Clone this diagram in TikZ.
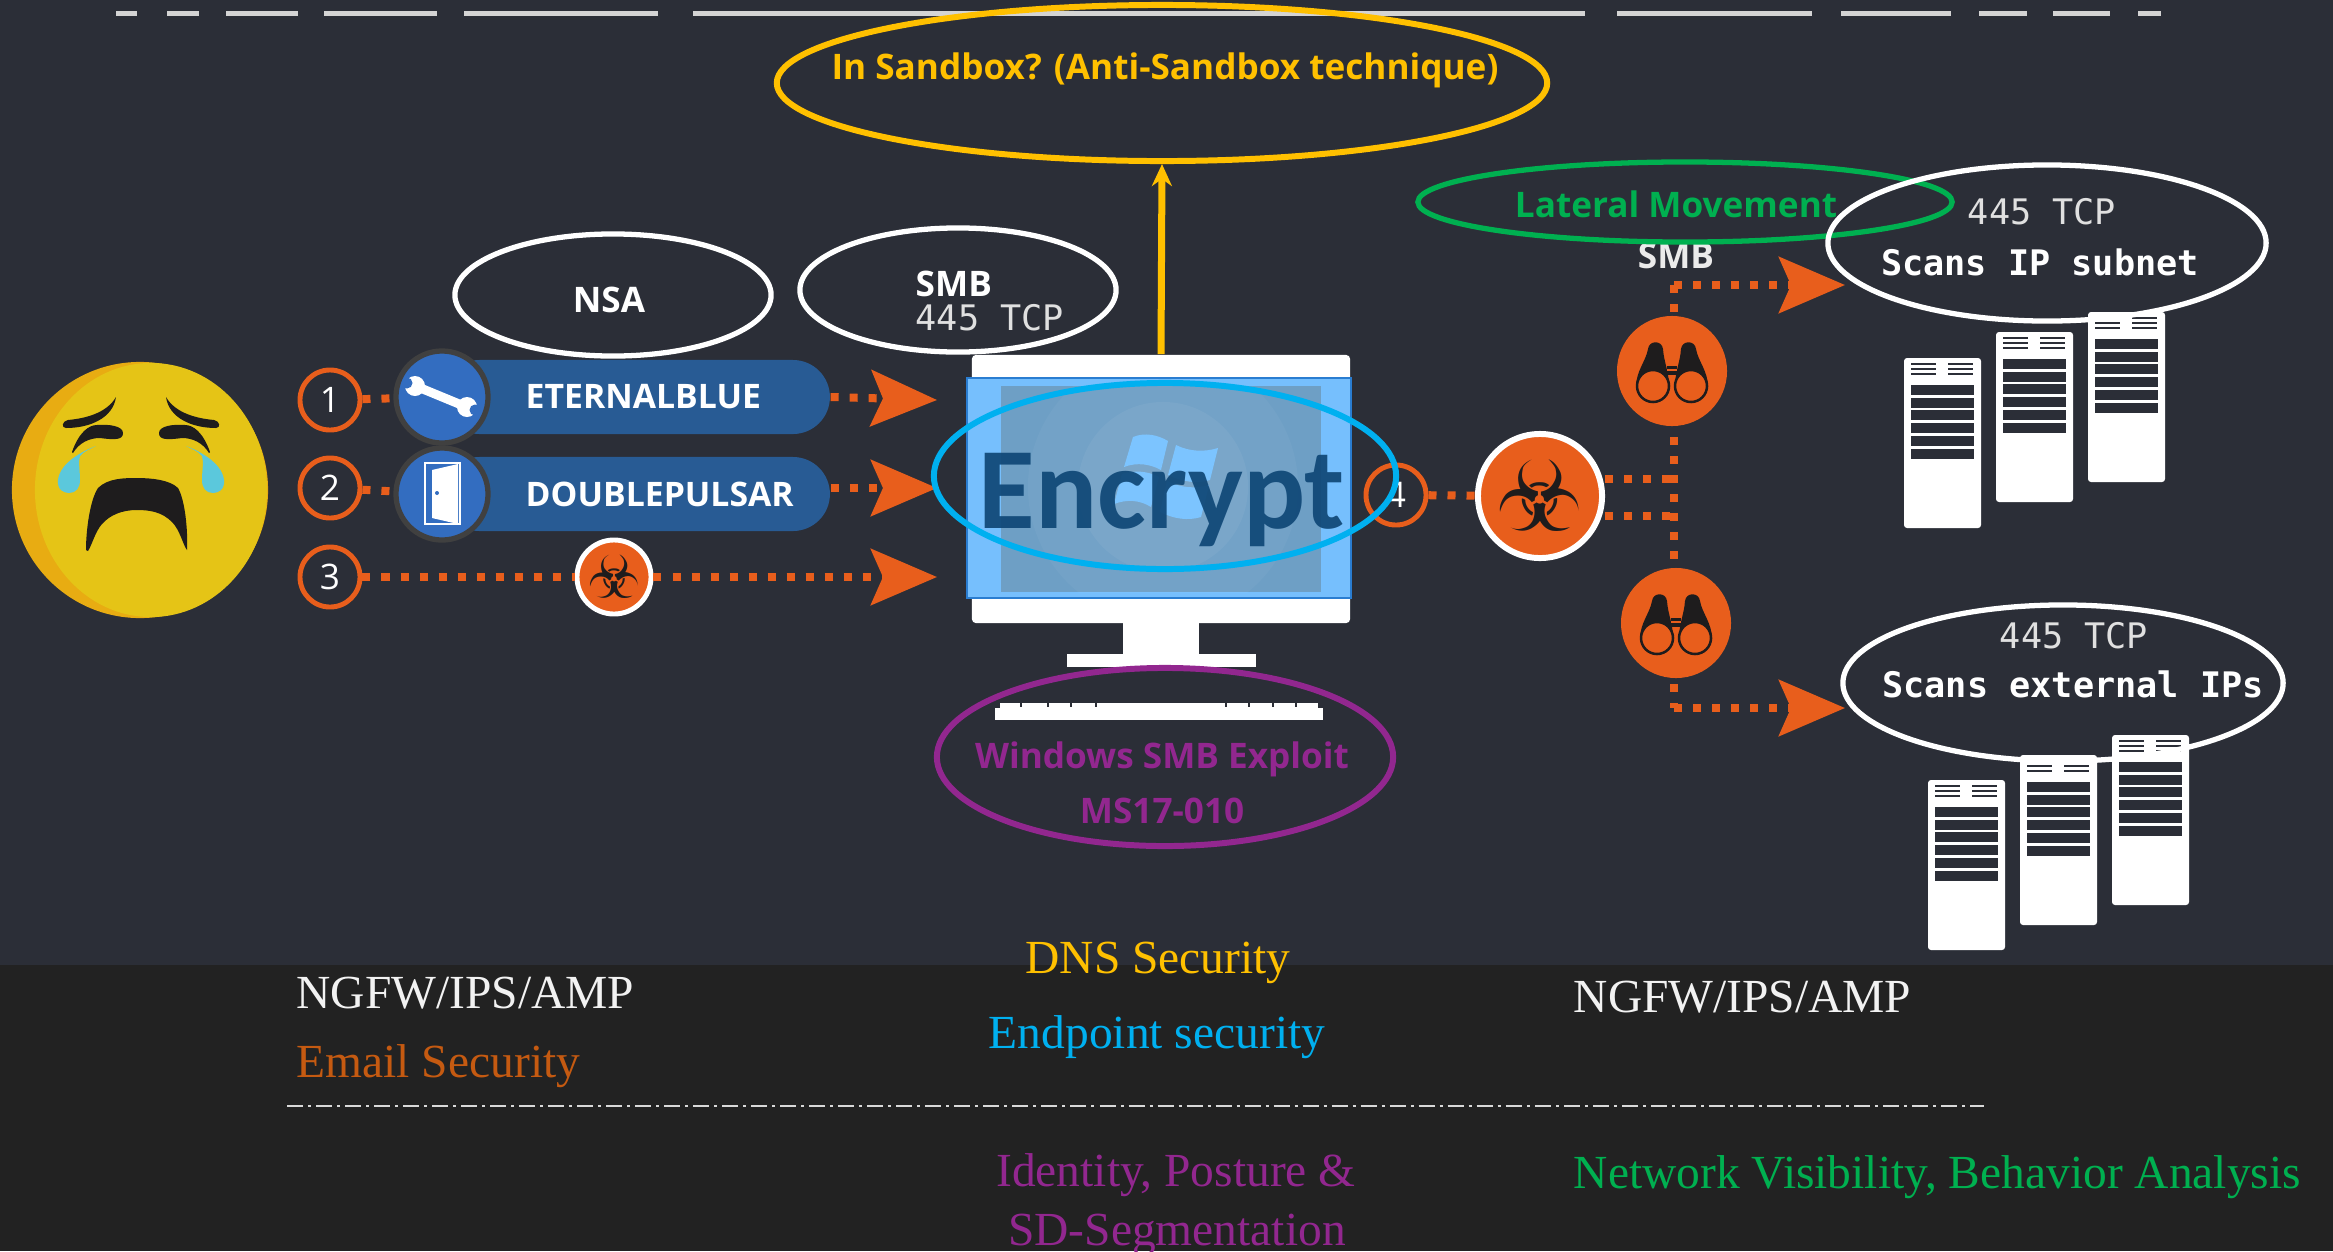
\documentclass[tikz,border=0pt]{standalone}
\usepackage{fontspec}
\setmainfont{Liberation Serif}
\newfontfamily\uifont{Open Sans}
\newfontfamily\codefont{DejaVu Sans Mono}
\newfontfamily\encfont{Carlito}
\newfontfamily\hazfont{DejaVu Sans}
\usetikzlibrary{shapes.geometric,arrows.meta,positioning,calc}

\definecolor{bgtop}{HTML}{2B2E37}
\definecolor{bgband}{HTML}{222222}
\definecolor{warnorange}{HTML}{E85E1C}
\definecolor{sandyellow}{HTML}{FFC000}
\definecolor{endcyan}{HTML}{00B0F0}
\definecolor{smbpurple}{HTML}{92278F}
\definecolor{latgreen}{HTML}{00B050}
\definecolor{pillblue}{HTML}{285B94}
\definecolor{toolblue}{HTML}{336DC0}
\definecolor{mailorange}{HTML}{C55A11}
\definecolor{screenblue}{HTML}{76BFFD}
\definecolor{screenline}{HTML}{2A7DD1}
\definecolor{screendim}{HTML}{6E9FC5}
\definecolor{winpane}{HTML}{7CC4FF}
\definecolor{encblue}{HTML}{0F4776}
\definecolor{faceyel}{HTML}{E5C416}
\definecolor{faceedge}{HTML}{E8AC12}
\definecolor{teardrop}{HTML}{5BC8DC}
\definecolor{inkdark}{HTML}{1E1C1D}
\definecolor{dashgray}{HTML}{D4D4D4}

\begin{document}
\begin{tikzpicture}[x=0.01cm,y=-0.01cm,
    bubble/.style={ellipse,draw=white,line width=1.5pt,inner sep=0pt},
    numring/.style={circle,draw=warnorange,line width=1.4pt,minimum size=0.6cm,inner sep=0pt,
        text=white,font=\uifont\fontsize{10}{10}\selectfont},
    toolicon/.style={circle,fill=toolblue,draw=black!75,line width=1.5pt,minimum size=0.92cm,inner sep=0pt},
    pill/.style={rectangle,fill=pillblue,rounded corners=0.37cm,minimum width=3.87cm,minimum height=0.74cm,anchor=west},
    pilltext/.style={anchor=base west,inner sep=0pt,text=white,font=\uifont\bfseries\fontsize{9.6}{10}\selectfont},
    hazard/.style={circle,fill=warnorange,draw=white,inner sep=0pt,text=inkdark},
    scoutdot/.style={circle,fill=warnorange,minimum size=1.1cm,inner sep=0pt},
    dotline/.style={draw=warnorange,line width=0.08cm,dash pattern=on 0.08cm off 0.11cm},
    tipline/.style={dotline,-{Stealth[length=0.66cm,width=0.56cm,inset=0.12cm]}},
    uitext/.style={inner sep=0pt,font=\uifont\bfseries\fontsize{10}{10}\selectfont},
    tcptext/.style={inner sep=0pt,text=white!88!black,font=\codefont\fontsize{10}{10}\selectfont},
    scantext/.style={inner sep=0pt,text=white,font=\codefont\bfseries\fontsize{10}{10}\selectfont},
    bandtext/.style={inner sep=0pt,font=\fontsize{13.5}{16}\selectfont},
    binoculars/.pic={
        \foreach \s in {-1,1}{
            \fill[inkdark] (\s*3,16) .. controls (\s*3,0) and (\s*8,-8) .. (\s*9,-22)
                .. controls (\s*10,-31) and (\s*23,-31) .. (\s*24,-22)
                .. controls (\s*26,-10) and (\s*36,0) .. (\s*36,16) -- cycle;
            \draw[inkdark,line width=0.025cm,fill=warnorange] (\s*19,15) circle (0.16cm);
        }
        \fill[inkdark] (-5,-5) rectangle (5,4);
        \draw[warnorange,line width=0.015cm] (-5,-1) -- (5,-1);
    },
    rack/.pic={
        \fill[white,rounded corners=0.03cm] (0,0) rectangle (77,170);
        \foreach \v in {6,11,16}
            \draw[bgtop,line width=0.02cm] (7,\v) -- (32,\v) (44,\v) -- (69,\v);
        \foreach \k in {0,...,5}
            \fill[bgtop] (7,27+12.7*\k) rectangle (70,37+12.7*\k);
    }]

    \useasboundingbox (0,0) rectangle (2333,1251);
    \fill[bgtop] (0,0) rectangle (2333,965);
    \fill[bgband] (0,965) rectangle (2333,1251);

    % top rule
    \foreach \a/\b in {116/137,167/199,226/298,324/437,464/658,693/1585,1617/1812,1841/1951,1979/2027,2053/2110,2138/2161}
        \draw[dashgray,line width=0.05cm] (\a,13) -- (\b,13);

    % crying face
    \fill[faceedge] (140,490) circle (1.28cm);
    \fill[faceyel] (151,490) ellipse [x radius=1.16cm, y radius=1.27cm];
    \foreach \s in {1,-1}{
        \begin{scope}[shift={(141,0)},xscale=\s]
            \fill[inkdark] (-75,428) .. controls (-51,428) and (-28,418) .. (-25,397)
                .. controls (-33,411) and (-51,418) .. (-73,420)
                .. controls (-79,421) and (-80,428) .. (-75,428) -- cycle;
            \fill[inkdark] (-69,452) .. controls (-62,432) and (-52,425) .. (-44,425)
                .. controls (-32,424) and (-18,426) .. (-18,433)
                .. controls (-18,440) and (-26,440) .. (-41,438)
                .. controls (-52,438) and (-62,443) .. (-68,453) -- cycle;
            \fill[teardrop] (-45,446) .. controls (-56,450) and (-81,462) .. (-83,480)
                .. controls (-84,490) and (-77,493) .. (-72,493)
                .. controls (-65,493) and (-61,488) .. (-61,480)
                .. controls (-61,470) and (-63,462) .. (-61,456)
                .. controls (-57,451) and (-51,449) .. (-45,446) -- cycle;
        \end{scope}
    }
    \fill[inkdark] (86,550) .. controls (86,530) and (90,500) .. (98,488)
        .. controls (108,478) and (125,478) .. (137,478)
        .. controls (152,478) and (170,480) .. (178,488)
        .. controls (185,500) and (188,530) .. (187,550)
        .. controls (183,545) and (180,530) .. (172,522)
        .. controls (162,512) and (150,510) .. (137,510)
        .. controls (122,510) and (110,515) .. (102,524)
        .. controls (95,532) and (92,545) .. (88,551) -- cycle;

    % numbered steps
    \node[numring] (ring1) at (330,400) {1};
    \node[numring] (ring2) at (330,488) {2};
    \node[numring] (ring3) at (330,577) {3};

    \node[pill] (pill1) at (442,397) {};
    \node[pill] (pill2) at (442,494) {};
    \node[toolicon] (icon1) at (442,397) {};
    \node[toolicon] (icon2) at (442,494) {};
    \node[pilltext] (eblue) at (525,408) {ETERNALBLUE};
    \node[pilltext] (dpulsar) at (525,506) {DOUBLEPULSAR};

    % wrench
    \begin{scope}[shift={(442,397)}]
        \draw[white,line width=0.09cm] (-24,-10) -- (22,9);
        \fill[white] (-27,-11) circle (0.1cm) (25,10) circle (0.1cm);
        \fill[toolblue] (-35,-14) circle (0.055cm) (33,13) circle (0.055cm);
    \end{scope}
    % door
    \begin{scope}[shift={(442,494)}]
        \draw[white,line width=0.015cm] (-17,-31) rectangle (18,30);
        \fill[white] (-10,-24) -- (16,-30) -- (16,30) -- (-10,24) -- cycle;
        \fill[toolblue] (-5,-1) circle (0.02cm);
    \end{scope}

    \node[hazard,minimum size=0.74cm,line width=1.4pt,font=\hazfont\fontsize{17}{17}\selectfont] (haz3) at (614,577) {☣};

    \coordinate (tip1) at (937,400);
    \coordinate (tip2) at (937,488);
    \coordinate (tip3) at (937,577);
    \draw[dotline] (ring1) -- (icon1);
    \draw[dotline] (ring2) -- (icon2);
    \draw[tipline] (pill1.east) -- (tip1);
    \draw[tipline] (pill2.east |- tip2) -- (tip2);
    \draw[dotline] (ring3) -- (haz3);
    \draw[tipline] (haz3) -- (tip3);

    % exploit bubbles
    \node[bubble,minimum width=3.16cm,minimum height=1.22cm] (nsa) at (613,295) {};
    \node[uitext,text=white] (nsalbl) at (609,300) {NSA};
    \node[bubble,minimum width=3.16cm,minimum height=1.24cm] (smb) at (958,290) {};
    \node[uitext,text=white,anchor=base west] (smblbl) at (915,296) {SMB};
    \node[tcptext,anchor=base west] (smbport) at (915,330) {445 TCP};

    % workstation
    \node[fill=white,rounded corners=0.04cm,minimum width=3.78cm,minimum height=2.68cm,inner sep=0pt] (monitor) at (1161,489) {};
    \fill[white] (1123,620) rectangle (1199,655);
    \fill[white] (1067,654) rectangle (1256,667);
    \filldraw[fill=screenblue,draw=screenline,line width=0.02cm] (967,378) rectangle (1351,598);
    \fill[screendim] (1001,386) rectangle (1321,592);
    \begin{scope}
        \clip (1001,386) rectangle (1321,592);
        \fill[white,opacity=0.035] (1163,487) circle (1.35cm);
        \fill[white,opacity=0.05] (1163,487) circle (0.85cm);
    \end{scope}
    \fill[winpane] (1133,437) .. controls (1145,432) and (1158,435) .. (1168,441) -- (1161,470)
        .. controls (1150,464) and (1137,462) .. (1124,467) -- cycle;
    \fill[winpane] (1176,445) .. controls (1190,452) and (1205,452) .. (1218,448) -- (1210,480)
        .. controls (1197,484) and (1183,482) .. (1168,475) -- cycle;
    \fill[winpane] (1122,474) .. controls (1135,470) and (1148,471) .. (1159,477) -- (1151,507)
        .. controls (1140,500) and (1127,499) .. (1114,504) -- cycle;
    \fill[winpane] (1167,481) .. controls (1181,488) and (1196,489) .. (1209,485) -- (1201,517)
        .. controls (1188,521) and (1174,519) .. (1160,512) -- cycle;
    \fill[white] (995,708) rectangle (1323,720);
    \fill[white] (1000,703) rectangle (1318,708);
    \foreach \g in {1020,1047,1070,1095,1225,1248,1272,1295}
        \fill[bgtop] (\g,702) rectangle (\g+2,707);

    \node[text=encblue,opacity=0.92,anchor=base,inner sep=0pt,font=\encfont\bfseries\fontsize{33}{33}\selectfont] (enc) at (1162,528) {Encrypt};
    \node[numring] (ring4) at (1396,495) {4};
    \node[ellipse,draw=endcyan,line width=1.7pt,minimum width=4.62cm,minimum height=1.86cm] (encbub) at (1165,476) {};

    \node[bubble,draw=sandyellow,line width=1.7pt,minimum width=7.7cm,minimum height=1.56cm] (sandbub) at (1162,83) {};
    \node[uitext,text=sandyellow] (sandlbl) at (1165,70) {In Sandbox? (Anti-Sandbox technique)};
    \draw[sandyellow,line width=0.07cm,-{Stealth[length=0.22cm,width=0.2cm]}] (monitor.north) -- (sandbub.south);

    \node[bubble,draw=smbpurple,line width=1.7pt,minimum width=4.56cm,minimum height=1.78cm] (ms17) at (1165,757) {};
    \node[uitext,text=smbpurple] (ms17a) at (1162,759) {Windows SMB Exploit};
    \node[uitext,text=smbpurple] (ms17b) at (1162,811) {MS17-010};

    % spreading
    \node[hazard,minimum size=1.24cm,line width=1.7pt,font=\hazfont\fontsize{28}{28}\selectfont] (haz0) at (1540,496) {☣};
    \coordinate (fork1) at (1674,479);
    \coordinate (fork2) at (1674,516);
    \coordinate (smbtop) at (1674,285);
    \coordinate (smbbot) at (1674,708);
    \coordinate (scanA) at (1845,285);
    \coordinate (scanB) at (1845,708);
    \draw[dotline] (ring4) -- (haz0);
    \draw[dotline] (haz0.east |- fork1) -- (fork1);
    \draw[dotline] (haz0.east |- fork2) -- (fork2);
    \draw[dotline] (smbtop) -- (smbbot);
    \draw[tipline] (smbtop) -- (scanA);
    \draw[tipline] (smbbot) -- (scanB);
    \node[scoutdot] (scout1) at (1672,371) {};
    \node[scoutdot] (scout2) at (1676,623) {};
    \pic at (scout1) {binoculars};
    \pic at (scout2) {binoculars};
    \node[uitext,text=white!92!black,anchor=base] (smbside) at (1676,268) {SMB};

    % server racks
    \foreach \rx/\ry in {1904/358,1996/332,2088/312,1928/780,2020/755,2112/735}
        \pic at (\rx,\ry) {rack};

    \node[bubble,draw=latgreen,minimum width=5.34cm,minimum height=0.8cm] (latbub) at (1685,202) {};
    \node[uitext,text=latgreen,anchor=base] (latlbl) at (1676,217) {Lateral Movement};
    \node[bubble,minimum width=4.38cm,minimum height=1.56cm] (subnet) at (2047,243) {};
    \node[tcptext,anchor=base] (subport) at (2042,224) {445 TCP};
    \node[scantext,anchor=base] (sublbl) at (2040,275) {Scans IP subnet};
    \node[bubble,minimum width=4.4cm,minimum height=1.56cm] (extern) at (2063,683) {};
    \node[tcptext,anchor=base] (extport) at (2074,648) {445 TCP};
    \node[scantext,anchor=base] (extlbl) at (2073,697) {Scans external IPs};

    % controls band
    \draw[white!85!black,line width=0.025cm,dash pattern=on 0.16cm off 0.05cm on 0.03cm off 0.05cm] (287,1106) -- (1984,1106);
    \node[bandtext,text=white!95!black,anchor=base west] (ngfwl) at (296,1008) {NGFW/IPS/AMP};
    \node[bandtext,text=mailorange,anchor=base west] (mail) at (296,1077) {Email Security};
    \node[bandtext,text=sandyellow,anchor=base] (dns) at (1158,973) {DNS Security};
    \node[bandtext,text=endcyan,anchor=base] (endp) at (1157,1048) {Endpoint security};
    \node[bandtext,text=white!95!black,anchor=base west] (ngfwr) at (1573,1012) {NGFW/IPS/AMP};
    \node[bandtext,text=smbpurple,anchor=base] (ident) at (1176,1186) {Identity, Posture \&};
    \node[bandtext,text=smbpurple,anchor=base] (segm) at (1177,1245) {SD-Segmentation};
    \node[bandtext,text=latgreen,anchor=base west] (netvis) at (1573,1188) {Network Visibility, Behavior Analysis};
\end{tikzpicture}
\end{document}
